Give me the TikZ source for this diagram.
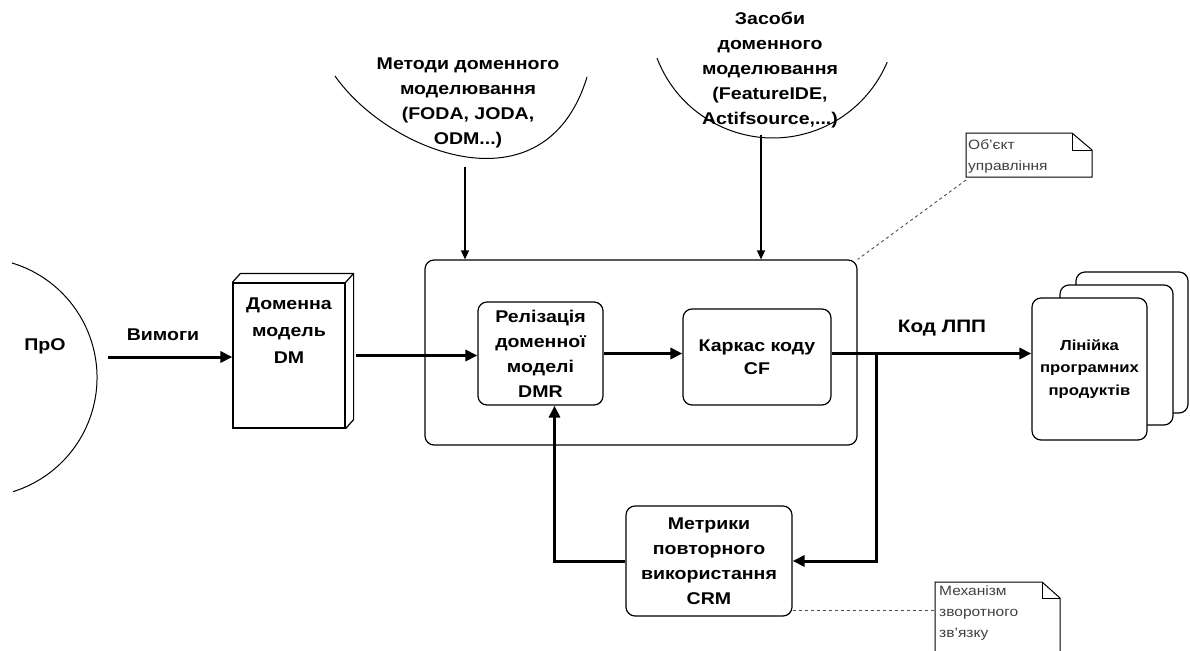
\documentclass[tikz,border=0pt]{standalone}
\usepackage{fontspec}
\setmainfont{Liberation Sans}[FakeStretch=1.15]
\usetikzlibrary{arrows.meta}
\begin{document}
\begin{tikzpicture}[x=1pt,y=-1pt,
  main/.style={font=\bfseries\fontsize{17}{25}\selectfont, align=center, inner sep=0pt},
  box/.style={draw, line width=1.2pt, rounded corners=9pt, inner sep=0pt},
  thickarrow/.style={line width=3pt, -{Triangle[length=12pt,width=11pt]}},
  thinarrow/.style={line width=1.4pt, -{Triangle[length=9pt,width=8pt]}},
  arcline/.style={line width=1pt},
  notebox/.style={draw, line width=1pt, line join=miter},
  notetext/.style={font=\fontsize{13.5}{21}\selectfont, text=black!75, align=left, inner sep=0pt, anchor=north west},
  dashlink/.style={dashed, line width=0.9pt, black!70}
]
\useasboundingbox (0,0) rectangle (1190,650);

% ---------- ПрО ----------
\draw[arcline] (12,263) arc[start angle=-73.2, end angle=72.7, radius=119.6];
\node[main] (pro) at (45,346) {ПрО};
\node[main] (vym) at (163,335) {Вимоги};

% ---------- Методи ----------
\draw[arcline] (335,76) .. controls (388,152) and (545,215) .. (587,77);
\node[main] (meth) at (468,103) {Методи доменного\\моделювання\\(FODA, JODA,\\ODM...)};

% ---------- Засоби ----------
\draw[arcline] (657,58) arc[start angle=159.2, end angle=22.8, radius=124];
\node[main] (tools) at (770,70) {Засоби\\доменного\\моделювання\\(FeatureIDE,\\Actifsource,...)};

% ---------- DM ----------
\node[draw, line width=1.2pt, minimum width=112pt, minimum height=145pt, inner sep=0pt] (dm) at (289,355.5) {};
\draw[line width=1.2pt, line join=round] (dm.north west) -- ++(8,-9) -- ([shift={(8,-9)}]dm.north east) -- ([shift={(8,-9)}]dm.south east) -- (dm.south east);
\draw[line width=1.2pt] (dm.north east) -- ++(8,-9);
\node[main, font=\bfseries\fontsize{17}{27}\selectfont] (dmt) at (289,331) {Доменна\\модель\\DM};

% ---------- system ----------
\node[box, minimum width=432pt, minimum height=185pt] (sys) at (641,352.5) {};
\node[box, main, minimum width=125pt, minimum height=103pt] (dmr) at (540.5,353.5) {Релізація\\доменної\\моделі\\DMR};
\node[box, main, font=\bfseries\fontsize{17}{23}\selectfont, minimum width=148pt, minimum height=96pt] (cf) at (757,357) {Каркас коду\\CF};
\node[box, main, minimum width=166pt, minimum height=110pt] (crm) at (709,561) {Метрики\\повторного\\використання\\CRM};

% ---------- products ----------
\node[box, minimum width=112pt, minimum height=141pt] (p3) at (1132,342.5) {};
\node[box, fill=white, minimum width=113pt, minimum height=140pt] (p2) at (1116.5,355) {};
\node[box, fill=white, main, font=\bfseries\fontsize{14.5}{22.5}\selectfont, minimum width=115pt, minimum height=142pt] (p1) at (1089.5,369) {Лінійка\\програмних\\продуктів};

\node[font=\bfseries\fontsize{18}{22}\selectfont, inner sep=0pt] (kod) at (942,328) {Код ЛПП};

% ---------- connectors ----------
\coordinate (proout) at (108,357);
\draw[thickarrow] (proout) -- (dm.west |- proout);
\draw[thickarrow] ([xshift=10pt]dm.east) -- (dmr.west |- dm.east);
\draw[thickarrow] (dmr.east) -- (cf.west |- dmr.east);
\draw[thickarrow] (cf.east |- dmr.east) -- (p1.west |- dmr.east);
\coordinate (jn) at (876,353.5);
\draw[thickarrow] (jn) |- (crm.east);
\draw[thickarrow] (crm.west) -| ([xshift=14pt]dmr.south);

\coordinate (mA) at (465,167);
\draw[thinarrow] (mA) -- (sys.north -| mA);
\coordinate (tA) at (761,135);
\draw[thinarrow] (tA) -- (sys.north -| tA);

% ---------- notes ----------
\draw[notebox, fill=white] (966,133) -- (1072,133) -- (1092,150) -- (1092,177) -- (966,177) -- cycle;
\draw[line width=1pt] (1072,133) -- (1072,150) -- (1092,150);
\node[notetext] (n1) at (968,139) {Об'єкт\\управління};
\coordinate (n1c) at (966,180);
\draw[dashlink] (n1c) -- (sys.north east);

\draw[notebox, fill=white] (935,660) -- (935,582) -- (1042,582) -- (1060,598) -- (1060,660);
\draw[line width=1pt] (1042,582) -- (1042,598) -- (1060,598);
\node[notetext] (n2) at (939,586) {Механізм\\зворотного\\зв'язку};
\coordinate (n2c) at (935,610);
\draw[dashlink] (crm.east |- n2c) -- (n2c);
\end{tikzpicture}
\end{document}
